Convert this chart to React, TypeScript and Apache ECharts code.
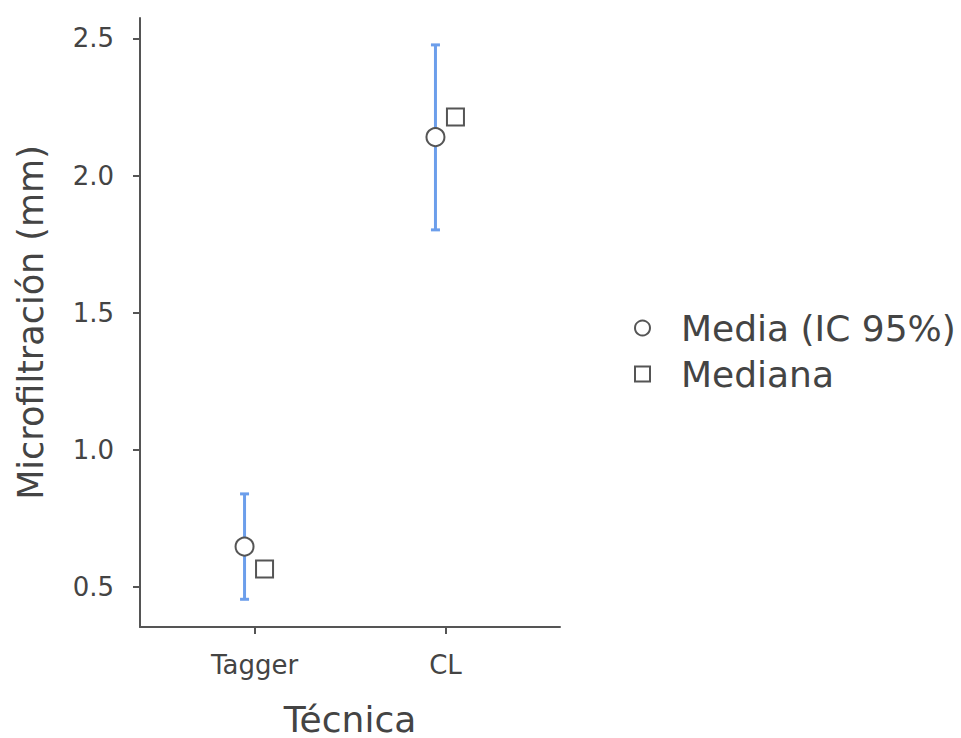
import React, { useEffect, useRef } from "react";
import * as echarts from "echarts";

const categories = ["Tagger", "CL"];
const meanValues = [0.648, 2.14];
const ciLower = [0.456, 1.802];
const ciUpper = [0.84, 2.476];
const medianValues = [0.566, 2.213];
const yTicks = [0.5, 1.0, 1.5, 2.0, 2.5];
const seriesNames = ["Media (IC 95%)", "Mediana"];

const FONT = "DejaVu Sans";
const TEXT = "#444";
const AXIS = "#555";

export default function App() {
  const ref = useRef<HTMLDivElement>(null);
  useEffect(() => {
    if (!ref.current) return;
    const chart = echarts.init(ref.current, null, { renderer: "svg" });
    const xPos = categories.map((_, i) => i + 1);
    const option: any = {
      animation: false,
      backgroundColor: "#fff",
      grid: {
        left: 140,
        top: 18,
        width: 420,
        height: 609,
        containLabel: false,
        outerBoundsMode: "none",
      },
      legend: {
        orient: "vertical",
        left: 629,
        top: 305,
        itemWidth: 15,
        itemHeight: 15,
        itemGap: 10,
        data: [
          { name: seriesNames[0], icon: "circle" },
          { name: seriesNames[1], icon: "rect" },
        ],
        textStyle: {
          fontFamily: FONT,
          fontSize: 36,
          color: TEXT,
          lineHeight: 36,
          padding: [0, 0, 0, 26],
        },
      },
      xAxis: {
        type: "value",
        min: 0.4,
        max: 2.6,
        name: "Técnica",
        nameLocation: "middle",
        nameGap: 74,
        nameTextStyle: { fontFamily: FONT, fontSize: 36, color: TEXT },
        splitLine: { show: false },
        axisLine: { show: true, lineStyle: { color: AXIS, width: 2 } },
        axisTick: { show: true, length: 7, customValues: xPos, lineStyle: { color: AXIS, width: 2 } },
        axisLabel: {
          customValues: xPos,
          margin: 25,
          fontFamily: FONT,
          fontSize: 26,
          color: TEXT,
          formatter: (v: number) => categories[Math.round(v) - 1] ?? "",
        },
      },
      yAxis: {
        type: "value",
        min: 0.355,
        max: 2.574,
        name: "Microfiltración (mm)",
        nameLocation: "middle",
        nameRotate: 90,
        nameGap: 92,
        nameTextStyle: { fontFamily: FONT, fontSize: 35, color: TEXT },
        splitLine: { show: false },
        axisLine: { show: true, lineStyle: { color: AXIS, width: 2 } },
        axisTick: { show: true, length: 7, customValues: yTicks, lineStyle: { color: AXIS, width: 2 } },
        axisLabel: {
          customValues: yTicks,
          margin: 26,
          fontFamily: FONT,
          fontSize: 26,
          color: TEXT,
          formatter: (v: number) => v.toFixed(1),
        },
      },
      series: [
        {
          type: "custom",
          name: "ci",
          z: 1,
          data: xPos.map((x, i) => [x, ciLower[i], ciUpper[i]]),
          renderItem: (params: any, api: any) => {
            const lo = api.coord([api.value(0), api.value(1)]);
            const hi = api.coord([api.value(0), api.value(2)]);
            const x = lo[0] - 10;
            const style = { stroke: "#6C9EEB", lineWidth: 3 };
            return {
              type: "group",
              children: [
                { type: "line", shape: { x1: x, y1: lo[1], x2: x, y2: hi[1] }, style },
                { type: "line", shape: { x1: x - 4.5, y1: lo[1], x2: x + 4.5, y2: lo[1] }, style },
                { type: "line", shape: { x1: x - 4.5, y1: hi[1], x2: x + 4.5, y2: hi[1] }, style },
              ],
            };
          },
        },
        {
          type: "scatter",
          name: seriesNames[0],
          z: 3,
          symbol: "circle",
          symbolSize: 18,
          symbolOffset: [-10, 0],
          itemStyle: { color: "#fff", borderColor: "#555", borderWidth: 2, opacity: 1 },
          data: xPos.map((x, i) => [x, meanValues[i]]),
        },
        {
          type: "scatter",
          name: seriesNames[1],
          z: 3,
          symbol: "rect",
          symbolSize: 17,
          symbolOffset: [10, 0],
          itemStyle: { color: "#fff", borderColor: "#555", borderWidth: 2, opacity: 1 },
          data: xPos.map((x, i) => [x, medianValues[i]]),
        },
      ],
    };
    chart.setOption(option);
    return () => chart.dispose();
  }, []);
  return (
    <div
      ref={ref}
      style={{ position: "absolute", left: 0, top: 0, width: 961, height: 738 }}
    />
  );
}
